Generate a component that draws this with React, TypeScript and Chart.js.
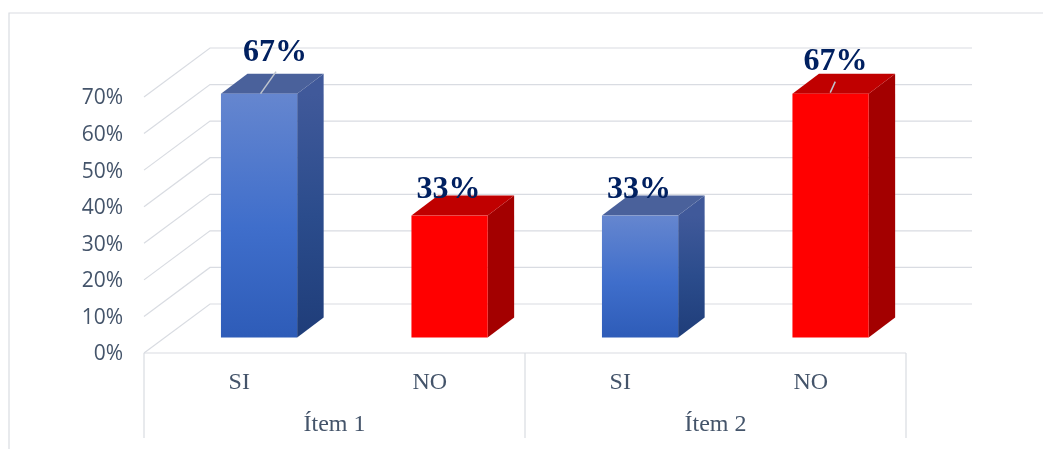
import React, { useEffect, useRef } from 'react';
import { Chart, registerables } from 'chart.js';

Chart.register(...registerables);

// ---- data ----
const categories = ['SI', 'NO', 'SI', 'NO'];
const groups = ['Ítem 1', 'Ítem 2'];
const values = [66.67, 33.33, 33.33, 66.67];
const yMax = 70;
const yStep = 10;

// ---- styles ----
const GRID = '#D9DCE2';
const TEXT = '#44546A';
const LABEL = '#002060';
const WALL = { x: 66, y: -49 };      // front plane -> back wall
const BAR_FRONT = { x: 19.8, y: -15.5 }; // front plane -> bar front face
const BAR_DEPTH = { x: 26.5, y: -20 };   // bar thickness
const labelOffsets = [[16, -41], [-1, -26], [-1, -26], [5, -32]];
const leaderLines: (number[] | null)[] = [[1.5, 0, 17, -22], null, null, [-0.3, -1, 4.7, -12]];
const palette: Record<string, { front: string[]; side: string[]; top: string }> = {
  SI: { front: ['#6586CF', '#3F6ECB', '#2E5CB8'], side: ['#40599A', '#2B4C8C', '#1F3D79'], top: '#4A619B' },
  NO: { front: ['#FF0000', '#FF0000', '#FF0000'], side: ['#A30000', '#A30000', '#A30000'], top: '#C00000' },
};

const threeD = {
  id: 'threeD',
  beforeDraw(chart: any) {
    const { ctx, width, height } = chart;
    ctx.save();
    ctx.fillStyle = '#fff';
    ctx.fillRect(0, 0, width, height);
    ctx.strokeStyle = GRID;
    ctx.lineWidth = 1.2;
    ctx.beginPath();
    ctx.moveTo(9, height + 2);
    ctx.lineTo(9, 13);
    ctx.lineTo(width + 2, 13);
    ctx.stroke();
    ctx.restore();
  },
  beforeDatasetsDraw(chart: any) {
    const { ctx, chartArea } = chart;
    const y = chart.scales.y;
    const x2 = chart.scales.x2;
    ctx.save();
    ctx.strokeStyle = GRID;
    ctx.lineWidth = 1.2;
    for (let v = 0; v <= yMax; v += yStep) {
      const yf = y.getPixelForValue(v);
      ctx.beginPath();
      ctx.moveTo(chartArea.left, yf);
      ctx.lineTo(chartArea.left + WALL.x, yf + WALL.y);
      ctx.lineTo(chartArea.right + WALL.x, yf + WALL.y);
      ctx.stroke();
    }
    // floor front edge + category box
    const b = chartArea.bottom;
    const boxBottom = x2.bottom - 11;
    ctx.beginPath();
    ctx.moveTo(chartArea.left, b);
    ctx.lineTo(chartArea.right, b);
    const mid = (x2.getPixelForValue(0) + x2.getPixelForValue(1)) / 2;
    [chartArea.left, mid, chartArea.right].forEach((xx: number) => {
      ctx.moveTo(xx, b);
      ctx.lineTo(xx, boxBottom);
    });
    ctx.stroke();
    ctx.restore();
  },
  afterDatasetsDraw(chart: any) {
    const { ctx } = chart;
    const meta = chart.getDatasetMeta(0);
    ctx.save();
    meta.data.forEach((el: any, i: number) => {
      const p = palette[categories[i]];
      const w = el.width;
      const x0 = el.x - w / 2 + BAR_FRONT.x;
      const x1 = el.x + w / 2 + BAR_FRONT.x;
      const y0 = el.y + BAR_FRONT.y;
      const y1 = el.base + BAR_FRONT.y;
      // side face
      const sg = ctx.createLinearGradient(0, y0, 0, y1);
      sg.addColorStop(0, p.side[0]);
      sg.addColorStop(0.5, p.side[1]);
      sg.addColorStop(1, p.side[2]);
      ctx.fillStyle = sg;
      ctx.beginPath();
      ctx.moveTo(x1, y0);
      ctx.lineTo(x1 + BAR_DEPTH.x, y0 + BAR_DEPTH.y);
      ctx.lineTo(x1 + BAR_DEPTH.x, y1 + BAR_DEPTH.y);
      ctx.lineTo(x1, y1);
      ctx.closePath();
      ctx.fill();
      // top face
      ctx.fillStyle = p.top;
      ctx.beginPath();
      ctx.moveTo(x0, y0);
      ctx.lineTo(x0 + BAR_DEPTH.x, y0 + BAR_DEPTH.y);
      ctx.lineTo(x1 + BAR_DEPTH.x, y0 + BAR_DEPTH.y);
      ctx.lineTo(x1, y0);
      ctx.closePath();
      ctx.fill();
      // front face
      const fg = ctx.createLinearGradient(0, y0, 0, y1);
      fg.addColorStop(0, p.front[0]);
      fg.addColorStop(0.55, p.front[1]);
      fg.addColorStop(1, p.front[2]);
      ctx.fillStyle = fg;
      ctx.fillRect(x0, y0, x1 - x0, y1 - y0);

      // leader line
      const cx = el.x + BAR_FRONT.x;
      const ll = leaderLines[i];
      if (ll) {
        ctx.strokeStyle = '#BFC5CE';
        ctx.lineWidth = 1.5;
        ctx.beginPath();
        ctx.moveTo(cx + ll[0], y0 + ll[1]);
        ctx.lineTo(cx + ll[2], y0 + ll[3]);
        ctx.stroke();
      }
      // data label
      const off = labelOffsets[i];
      ctx.fillStyle = LABEL;
      ctx.font = 'bold 32px "Liberation Serif", "Times New Roman", serif';
      ctx.textAlign = 'center';
      ctx.textBaseline = 'middle';
      ctx.fillText(Math.round(values[i]) + '%', cx + off[0], y0 + off[1]);
    });
    ctx.restore();
  },
};

export default function App() {
  const ref = useRef<HTMLCanvasElement>(null);
  useEffect(() => {
    const chart = new Chart(ref.current as HTMLCanvasElement, {
      type: 'bar',
      data: {
        labels: categories,
        datasets: [
          {
            data: values,
            backgroundColor: 'rgba(0,0,0,0)',
            borderWidth: 0,
            barPercentage: 0.4,
            categoryPercentage: 1,
            xAxisID: 'x',
            yAxisID: 'y',
          },
        ],
      },
      options: {
        responsive: false,
        animation: false,
        devicePixelRatio: 1,
        layout: { padding: { top: 97, right: 137, left: 0, bottom: 0 } },
        plugins: { legend: { display: false }, tooltip: { enabled: false } },
        scales: {
          y: {
            min: 0,
            max: yMax,
            position: 'left',
            grid: { display: false, drawTicks: false },
            border: { display: false },
            ticks: {
              stepSize: yStep,
              padding: 21,
              labelOffset: 1.5,
              color: TEXT,
              font: { family: '"Open Sans", sans-serif', size: 21 },
              callback: (v: any) => v + '%',
            },
            afterFit: (s: any) => { s.width = 144; },
          },
          x: {
            type: 'category',
            position: 'bottom',
            weight: 0,
            grid: { display: false, drawTicks: false },
            border: { display: false },
            ticks: {
              padding: 15,
              maxRotation: 0,
              autoSkip: false,
              color: TEXT,
              font: { family: '"Liberation Serif", "Times New Roman", serif', size: 24 },
            },
            afterFit: (s: any) => { s.height = 45; },
          },
          x2: {
            type: 'category',
            position: 'bottom',
            weight: 1,
            labels: groups,
            offset: true,
            grid: { display: false, drawTicks: false },
            border: { display: false },
            ticks: {
              padding: 12,
              maxRotation: 0,
              autoSkip: false,
              color: TEXT,
              font: { family: '"Liberation Serif", "Times New Roman", serif', size: 24 },
            },
            afterFit: (s: any) => { s.height = 51; },
          },
        },
      },
      plugins: [threeD],
    } as any);
    return () => chart.destroy();
  }, []);
  return (
    <div style={{ position: 'fixed', left: 0, top: 0, width: 1043, height: 449, background: '#fff' }}>
      <canvas ref={ref} width={1043} height={449} style={{ display: 'block' }} />
    </div>
  );
}
